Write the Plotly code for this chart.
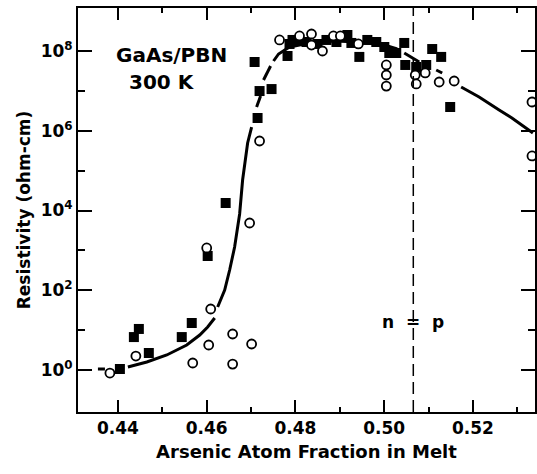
import plotly.graph_objects as go

# ---- data ----
sq_x = [0.44045, 0.44360, 0.44472, 0.44697, 0.45439, 0.45664, 0.46023, 0.46428,
        0.47147, 0.47192, 0.47462, 0.47080, 0.47822, 0.47867, 0.47934, 0.48047,
        0.48249, 0.48496, 0.48699, 0.48924, 0.49171, 0.49261, 0.49440, 0.49620,
        0.49822, 0.50003, 0.50115, 0.50272, 0.50452, 0.50475, 0.50722, 0.50947,
        0.51082, 0.51284, 0.51487]
sq_y = [1.06, 6.7, 10.7, 2.67, 6.7, 15.1, 723, 1.54e4,
        2.09e6, 9.9e6, 1.11e7, 5.3e7, 7.5e7, 1.5e8, 1.89e8, 1.78e8,
        1.68e8, 1.5e8, 1.89e8, 1.68e8, 2.52e8, 1.59e8, 7.1e7, 1.89e8,
        1.68e8, 1.26e8, 8.9e7, 8.9e7, 1.59e8, 4.46e7, 3.97e7, 4.46e7,
        1.12e8, 7.1e7, 3.94e6]

circ_x = [0.43820, 0.44405, 0.45686, 0.46046, 0.46091, 0.46001, 0.46585, 0.46585,
          0.47013, 0.46968, 0.47192, 0.47642, 0.48092, 0.48362, 0.48362, 0.48609,
          0.48856, 0.49013, 0.49418, 0.50048, 0.50048, 0.50048, 0.50700, 0.50722,
          0.50924, 0.51239, 0.51577, 0.53330, 0.53330]
circ_y = [0.84, 2.24, 1.50, 4.24, 33.9, 1150, 8.0, 1.41,
          4.49, 4860, 5.53e5, 1.89e8, 2.38e8, 2.67e8, 1.41e8, 1.0e8,
          2.38e8, 2.38e8, 1.5e8, 4.46e7, 2.5e7, 1.32e7, 2.5e7, 1.49e7,
          2.81e7, 1.67e7, 1.77e7, 5.26e6, 2.33e5]

# guide curve (drawn in pieces with gaps, None = gap)
curve_x = [0.43550, 0.43708, None,
           0.44225, 0.44652, 0.45102, 0.45551, 0.45844, 0.46023, 0.46181, None,
           0.46248, 0.46406, 0.46518, 0.46630, 0.46743, 0.46810, 0.46923, 0.47013, None,
           0.47125, 0.47215, None,
           0.47282, 0.47440, None,
           0.47507, 0.47620, 0.47867, 0.48317, 0.48879, 0.49440, 0.50003, 0.50295, None,
           0.50452, 0.50790, None,
           0.51172, 0.51307, None,
           0.51734, 0.52139, 0.52590, 0.52878, 0.53351]
curve_y = [1.06, 1.06, None,
           1.19, 1.59, 2.38, 4.24, 7.55, 12.0, 20.1, None,
           38, 101, 322, 1216, 8170, 5.82e4, 4.93e5, 1.24e6, None,
           3.94e6, 7.43e6, None,
           1.87e7, 4.21e7, None,
           5.61e7, 8.41e7, 1.26e8, 1.59e8, 1.78e8, 1.68e8, 1.41e8, 1.12e8, None,
           8.91e7, 5.3e7, None,
           3.34e7, 2.81e7, None,
           1.25e7, 7.02e6, 3.31e6, 2.09e6, 8.79e5]

n_eq_p_x = 0.50656

x_major = [0.44, 0.46, 0.48, 0.50, 0.52]
x_major_text = ["0.44", "0.46", "0.48", "0.50", "0.52"]
x_minor = [0.45, 0.47, 0.49, 0.51, 0.53]
y_major = [1, 1e2, 1e4, 1e6, 1e8]
y_major_text = ["10<sup>0</sup>", "10<sup>2</sup>", "10<sup>4</sup>",
                "10<sup>6</sup>", "10<sup>8</sup>"]
y_minor = [10, 1e3, 1e5, 1e7]

FONT = "DejaVu Sans"

fig = go.Figure()
fig.add_trace(go.Scatter(x=curve_x, y=curve_y, mode="lines",
                         line=dict(color="black", width=3), connectgaps=False,
                         hoverinfo="skip"))
fig.add_trace(go.Scatter(x=sq_x, y=sq_y, mode="markers",
                         marker=dict(symbol="square", size=10, color="black",
                                     line=dict(width=0))))
fig.add_trace(go.Scatter(x=circ_x, y=circ_y, mode="markers",
                         marker=dict(symbol="circle", size=9, color="white",
                                     line=dict(width=1.8, color="black"))))

fig.add_shape(type="line", xref="x", yref="paper", x0=n_eq_p_x, x1=n_eq_p_x,
              y0=0, y1=1, line=dict(color="black", width=1.5, dash="12px,6px"))

fig.add_annotation(x=0.45214, y=7.90, xref="x", yref="y", text="GaAs/PBN",
                   showarrow=False,
                   font=dict(family=FONT, size=20, color="black", weight="bold"))
fig.add_annotation(x=0.44989, y=7.22, xref="x", yref="y", text="300 K",
                   showarrow=False,
                   font=dict(family=FONT, size=20, color="black", weight="bold"))
fig.add_annotation(x=0.50659, y=1.20, xref="x", yref="y", text="n  =  p",
                   showarrow=False,
                   font=dict(family=FONT, size=17, color="black", weight="bold"))

fig.update_xaxes(range=[0.43101, 0.53398], showline=True, linecolor="black",
                 linewidth=2, mirror="ticks", ticks="inside", ticklen=12,
                 tickwidth=2, tickcolor="black", tickvals=x_major,
                 ticktext=x_major_text, showgrid=False, zeroline=False,
                 automargin=False,
                 tickfont=dict(family=FONT, size=17, color="black", weight="bold"),
                 minor=dict(tickvals=x_minor, ticks="inside", ticklen=5,
                            tickwidth=2, tickcolor="black", showgrid=False),
                 title=dict(text="Arsenic Atom Fraction in Melt",
                            font=dict(family=FONT, size=18, color="black",
                                      weight="bold"),
                            standoff=8))
fig.update_yaxes(type="log", range=[-1.053, 9.078], showline=True,
                 linecolor="black", linewidth=2, mirror="ticks", ticks="inside",
                 ticklen=14, tickwidth=2, tickcolor="black", tickvals=y_major,
                 ticktext=y_major_text, showgrid=False, zeroline=False,
                 automargin=False,
                 tickfont=dict(family=FONT, size=17, color="black", weight="bold"),
                 minor=dict(tickvals=y_minor, ticks="inside", ticklen=7,
                            tickwidth=2, tickcolor="black", showgrid=False),
                 title=dict(text="Resistivity (ohm-cm)",
                            font=dict(family=FONT, size=17, color="black",
                                      weight="bold"),
                            standoff=6))

fig.update_layout(width=537, height=474, showlegend=False,
                  paper_bgcolor="white", plot_bgcolor="white",
                  margin=dict(l=78, r=2, t=8, b=62, autoexpand=False))

fig.write_html("out.html", config={"displayModeBar": False},
               post_script="document.body.style.margin='0';"
                           "document.body.style.padding='0';")
